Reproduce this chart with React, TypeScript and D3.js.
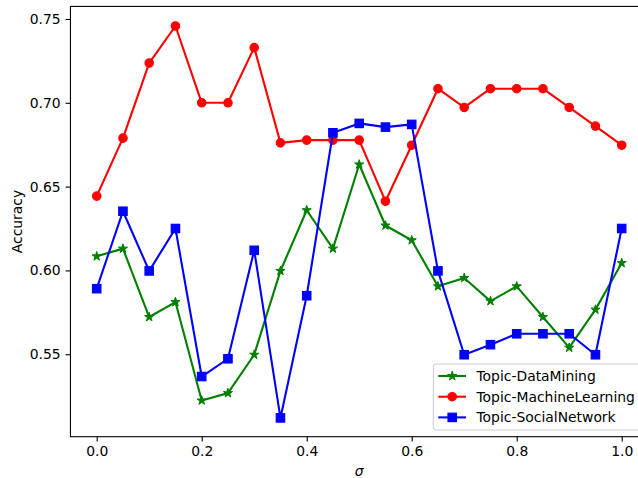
import React, { useEffect, useRef } from 'react';
import * as d3 from 'd3';

const sigma = [0.0, 0.05, 0.1, 0.15, 0.2, 0.25, 0.3, 0.35, 0.4, 0.45, 0.5, 0.55, 0.6, 0.65, 0.7, 0.75, 0.8, 0.85, 0.9, 0.95, 1.0];
const dataMining = [0.6084, 0.613, 0.5722, 0.5811, 0.5224, 0.5268, 0.5497, 0.5997, 0.6359, 0.613, 0.6632, 0.6268, 0.618, 0.5905, 0.5955, 0.5817, 0.5905, 0.5722, 0.5539, 0.5766, 0.6044];
const machineLearning = [0.6443, 0.6789, 0.7237, 0.7458, 0.70, 0.70, 0.7329, 0.6761, 0.6777, 0.6777, 0.6777, 0.6413, 0.6747, 0.7084, 0.6972, 0.7084, 0.7084, 0.7084, 0.6972, 0.6861, 0.6747];
const socialNetwork = [0.5891, 0.6353, 0.5997, 0.625, 0.5367, 0.5473, 0.612, 0.512, 0.5849, 0.6821, 0.6877, 0.6855, 0.6871, 0.5997, 0.5497, 0.5557, 0.5622, 0.5622, 0.5622, 0.5497, 0.625];
const xTicks = [0.0, 0.2, 0.4, 0.6, 0.8, 1.0];
const yTicks = [0.55, 0.60, 0.65, 0.70, 0.75];

const seriesNames = ['Topic-DataMining', 'Topic-MachineLearning', 'Topic-SocialNetwork'];
const seriesColors = ['#008000', '#ff0000', '#0000ff'];
const seriesMarkers = ['star', 'circle', 'square'];

const FONT = 'DejaVu Sans, sans-serif';

const App = () => {
  const ref = useRef<SVGSVGElement | null>(null);

  useEffect(() => {
    if (!ref.current) return;
    const svg = d3.select(ref.current);
    svg.selectAll('*').remove();

    const left = 70.45, right = 647.95, top = 6.4, bottom = 436.7;

    const x = d3.scaleLinear().domain([-0.05, 1.05]).range([left, right]);
    const y = d3.scaleLinear().domain([0.5008, 0.7575]).range([bottom, top]);

    svg.append('rect').attr('width', 638).attr('height', 478).attr('fill', '#fff');

    const drawMarker = (g: any, kind: string, cx: number, cy: number, color: string) => {
      if (kind === 'star') {
        g.append('path')
          .attr('d', d3.symbol().type(d3.symbolStar).size(26)())
          .attr('transform', `translate(${cx},${cy})`)
          .attr('fill', color).attr('stroke', color).attr('stroke-width', 1);
      } else if (kind === 'circle') {
        g.append('circle').attr('cx', cx).attr('cy', cy).attr('r', 4.2)
          .attr('fill', color).attr('stroke', color).attr('stroke-width', 1.2);
      } else {
        g.append('rect').attr('x', cx - 4.2).attr('y', cy - 4.2).attr('width', 8.4).attr('height', 8.4)
          .attr('fill', color).attr('stroke', color).attr('stroke-width', 1.2);
      }
    };

    const allSeries = [dataMining, machineLearning, socialNetwork];
    const line = d3.line<number>().x((_, i) => x(sigma[i])).y(d => y(d));

    const plot = svg.append('g');
    allSeries.forEach((vals, s) => {
      const g = plot.append('g');
      g.append('path').attr('d', line(vals))
        .attr('fill', 'none').attr('stroke', seriesColors[s]).attr('stroke-width', 2.1)
        .attr('stroke-linejoin', 'round');
      vals.forEach((v, i) => drawMarker(g, seriesMarkers[s], x(sigma[i]), y(v), seriesColors[s]));
    });

    // axes
    const xAxis = svg.append('g').attr('transform', `translate(0,${bottom})`)
      .call(d3.axisBottom(x).tickValues(xTicks).tickFormat(d3.format('.1f')).tickSizeOuter(0).tickSize(4.9).tickPadding(4.9));
    const yAxis = svg.append('g').attr('transform', `translate(${left},0)`)
      .call(d3.axisLeft(y).tickValues(yTicks).tickFormat(d3.format('.2f')).tickSizeOuter(0).tickSize(4.9).tickPadding(4.9));
    [xAxis, yAxis].forEach(a => {
      a.select('.domain').remove();
      a.selectAll('line').attr('stroke', '#000').attr('stroke-width', 1.1);
      a.selectAll('text').attr('font-family', FONT).attr('font-size', 13.9).attr('fill', '#000');
    });

    // spines
    svg.append('rect').attr('x', left).attr('y', top).attr('width', right - left).attr('height', bottom - top)
      .attr('fill', 'none').attr('stroke', '#000').attr('stroke-width', 1.1);

    // labels
    svg.append('text').attr('x', (left + right) / 2).attr('y', 476)
      .attr('text-anchor', 'middle').attr('font-family', FONT).attr('font-size', 13.9)
      .attr('font-style', 'italic').text('σ');
    svg.append('text').attr('transform', `translate(22,${(top + bottom) / 2}) rotate(-90)`)
      .attr('text-anchor', 'middle').attr('font-family', FONT).attr('font-size', 13.9)
      .text('Accuracy');

    // legend
    const legend = svg.append('g');
    legend.append('rect').attr('x', 433.3).attr('y', 364).attr('width', 208).attr('height', 66)
      .attr('rx', 2.8).attr('fill', '#fff').attr('fill-opacity', 0.8)
      .attr('stroke', '#cccccc').attr('stroke-width', 1);
    seriesNames.forEach((name, s) => {
      const cy = 376 + s * 20.7;
      legend.append('line').attr('x1', 438.3).attr('x2', 466).attr('y1', cy).attr('y2', cy)
        .attr('stroke', seriesColors[s]).attr('stroke-width', 2.1);
      drawMarker(legend, seriesMarkers[s], 452.2, cy, seriesColors[s]);
      legend.append('text').attr('x', 476.5).attr('y', cy).attr('dy', '0.35em')
        .attr('font-family', FONT).attr('font-size', 13.9).attr('fill', '#000').text(name);
    });
  }, []);

  return (
    <svg ref={ref} width={638} height={478} style={{ position: 'absolute', left: 0, top: 0 }} />
  );
};

export default App;
